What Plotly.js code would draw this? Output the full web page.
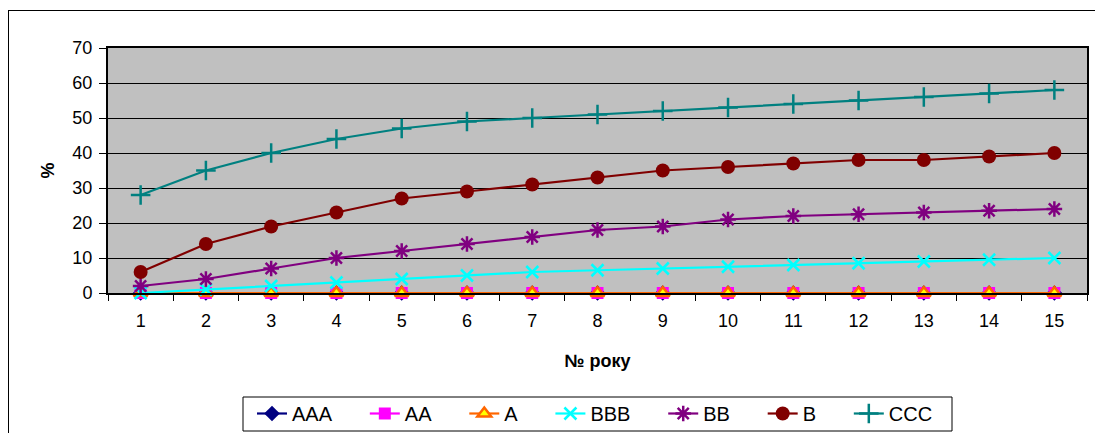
<!DOCTYPE html>
<html>
<head>
<meta charset="utf-8">
<script src="https://cdn.plot.ly/plotly-3.0.1.min.js"></script>
<style>
  html, body { margin: 0; padding: 0; background: #ffffff; overflow: hidden; }
  #frame { position: absolute; left: 8px; top: 10px; width: 2000px; height: 2000px; border: 1px solid #000; box-sizing: border-box; }
  #chart { position: absolute; left: 0; top: 0; width: 1095px; height: 433px; }
</style>
</head>
<body>
<div id="frame"></div>
<div id="chart"></div>
<script>
// Categories (years)
const years = ['1','2','3','4','5','6','7','8','9','10','11','12','13','14','15'];

// Series names
const names = ['AAA','AA','A','BBB','BB','B','CCC'];

// Series values (%)
const AAA = [0,0,0,0,0,0,0,0,0,0,0,0,0,0,0];
const AA  = [0,0,0,0,0,0,0,0,0,0,0,0,0,0,0];
const A   = [0,0,0,0,0,0,0,0,0,0,0,0,0,0,0];
const BBB = [0,1,2,3,4,5,6,6.5,7,7.5,8,8.5,9,9.5,10];
const BB  = [2,4,7,10,12,14,16,18,19,21,22,22.5,23,23.5,24];
const B   = [6,14,19,23,27,29,31,33,35,36,37,38,38,39,40];
const CCC = [28,35,40,44,47,49,50,51,52,53,54,55,56,57,58];

const yTicks = [0,10,20,30,40,50,60,70];

const pad = '\u00A0\u00A0\u00A0\u00A0\u00A0';

function tr(name, y, color, symbol, size, fill, lineW) {
  return {
    type: 'scatter', mode: 'lines+markers', name: name + pad, x: years, y: y,
    line: { color: color, width: 2.2 },
    marker: { symbol: symbol, size: size, color: fill || color,
              line: { color: color, width: lineW === undefined ? 0 : lineW } },
    cliponaxis: false
  };
}

const data = [
  tr(names[0], AAA, '#000080', 'diamond', 12),
  tr(names[1], AA, '#FF00FF', 'square', 12),
  tr(names[2], A, '#FF6600', 'triangle-up', 12, '#FFFF00', 2.5),
  tr(names[3], BBB, '#00FFFF', 'x-thin', 12, null, 2.5),
  tr(names[4], BB, '#800080', 'asterisk', 13, null, 2.5),
  tr(names[5], B, '#800000', 'circle', 14),
  tr(names[6], CCC, '#008080', 'cross-thin', 14, null, 2.5)
];

const font = 'Liberation Sans, Arial, sans-serif';

// plot area in pixels: x 108..1087, y 48..293
const PL = 108, PW = 979, PB = 293, PH = 245;
const px = v => (v - PL) / PW;
const py = v => (PB - v) / PH;

const layout = {
  width: 1095, height: 433,
  margin: { l: 108, r: 8, t: 48, b: 140, autoexpand: false },
  paper_bgcolor: 'rgba(0,0,0,0)',
  plot_bgcolor: '#C0C0C0',
  font: { family: font, size: 18, color: '#000' },
  showlegend: true,
  xaxis: {
    type: 'category',
    range: [-0.5, 14.5],
    automargin: false,
    tickson: 'boundaries',
    ticks: 'outside', ticklen: 6, tickwidth: 1, tickcolor: '#000',
    showline: true, linecolor: '#000', linewidth: 2, mirror: true,
    showgrid: false, zeroline: false,
    ticklabelstandoff: 10,
    tickfont: { family: font, size: 18 },
    title: { text: '<b>№ року</b>', font: { family: font, size: 18 }, standoff: 25 }
  },
  yaxis: {
    range: [0, 70],
    automargin: false,
    tickvals: yTicks,
    ticks: 'outside', ticklen: 7, tickwidth: 1, tickcolor: '#000',
    showline: true, linecolor: '#000', linewidth: 2, mirror: true,
    showgrid: true, gridcolor: '#000', gridwidth: 1,
    zeroline: false,
    ticklabelstandoff: 3,
    tickfont: { family: font, size: 18 },
    title: { text: '<b>%</b>', font: { family: font, size: 18 }, standoff: 13 }
  },
  legend: {
    orientation: 'h',
    xref: 'container', yref: 'container',
    x: 252 / 1095, xanchor: 'left',
    y: (433 - 394) / 433, yanchor: 'top',
    bgcolor: 'rgba(0,0,0,0)', borderwidth: 0,
    font: { family: font, size: 20 },
    itemwidth: 30,
    tracegroupgap: 0
  },
  shapes: [{
    type: 'rect', xref: 'paper', yref: 'paper',
    x0: px(243), x1: px(952), y0: py(431), y1: py(397),
    line: { color: '#000', width: 1 }, fillcolor: 'rgba(0,0,0,0)', layer: 'above'
  }]
};

Plotly.newPlot('chart', data, layout, { staticPlot: true });
</script>
</body>
</html>
